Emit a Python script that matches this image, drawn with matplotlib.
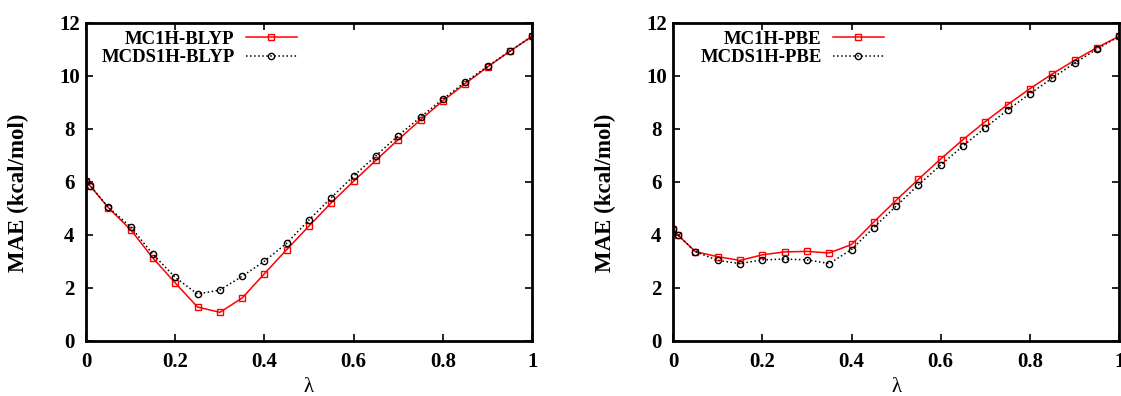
import numpy as np
import matplotlib.pyplot as plt

plt.rcParams['font.family'] = ['Liberation Serif', 'DejaVu Serif']
plt.rcParams['font.weight'] = 'bold'

# lambda values
lam = [0.0, 0.01, 0.05, 0.1, 0.15, 0.2, 0.25, 0.3, 0.35, 0.4, 0.45,
       0.5, 0.55, 0.6, 0.65, 0.7, 0.75, 0.8, 0.85, 0.9, 0.95, 1.0]

# BLYP panel
mc1h_blyp = [6.03, 5.84, 5.03, 4.20, 3.13, 2.19, 1.28, 1.08, 1.62, 2.54, 3.45,
             4.34, 5.22, 6.03, 6.82, 7.60, 8.35, 9.06, 9.71, 10.34, 10.93, 11.50]
mcds1h_blyp = [6.05, 5.85, 5.04, 4.31, 3.27, 2.40, 1.77, 1.92, 2.44, 3.01, 3.69,
               4.57, 5.41, 6.23, 6.99, 7.75, 8.45, 9.13, 9.77, 10.36, 10.94, 11.50]

# PBE panel
mc1h_pbe = [4.23, 4.01, 3.37, 3.18, 3.04, 3.25, 3.36, 3.38, 3.32, 3.64, 4.49,
            5.31, 6.10, 6.87, 7.60, 8.28, 8.92, 9.52, 10.08, 10.59, 11.07, 11.50]
mcds1h_pbe = [4.23, 4.01, 3.37, 3.04, 2.92, 3.06, 3.09, 3.06, 2.92, 3.45, 4.28,
              5.09, 5.89, 6.64, 7.36, 8.05, 8.72, 9.33, 9.92, 10.49, 11.01, 11.50]

panels = [
    (mc1h_blyp, mcds1h_blyp, 'MC1H-BLYP', 'MCDS1H-BLYP'),
    (mc1h_pbe, mcds1h_pbe, 'MC1H-PBE', 'MCDS1H-PBE'),
]

fig = plt.figure(figsize=(11.21, 3.96), dpi=100)
lefts = [0.0767, 0.6004]

for left, (red, black, lab1, lab2) in zip(lefts, panels):
    ax = fig.add_axes([left, 0.139, 0.398, 0.803])
    ax.plot(lam, red, '-', color='red', lw=1.1, marker='s', ms=5,
            mfc='none', mec='red', mew=1.0, label=lab1)
    ax.plot(lam, black, ':', color='black', lw=1.1, marker='o', ms=4.5,
            mfc='none', mec='black', mew=1.0, label=lab2)
    ax.set_xlim(0, 1)
    ax.set_ylim(0, 12)
    ax.set_xticks([0, 0.2, 0.4, 0.6, 0.8, 1])
    ax.set_xticklabels(['0', '0.2', '0.4', '0.6', '0.8', '1'])
    ax.set_yticks([0, 2, 4, 6, 8, 10, 12])
    ax.tick_params(direction='in', top=True, right=True, length=5, width=1.2,
                   labelsize=15)
    ax.tick_params(axis='x', pad=8)
    ax.tick_params(axis='y', pad=12)
    for t in ax.get_yticklabels():
        t.set_ha('center')
    for s in ax.spines.values():
        s.set_linewidth(2)
    ax.set_xlabel('λ', fontsize=15, fontweight='normal')
    ax.xaxis.set_label_coords(0.5, -0.115)
    ax.set_ylabel('MAE (kcal/mol)', fontsize=16.5, fontweight='bold')
    ax.yaxis.set_label_coords(-0.128, 0.465)
    leg = ax.legend(loc='upper right', frameon=False, markerfirst=False,
                    fontsize=13.5, handlelength=2.7, handletextpad=0.6,
                    borderpad=0, borderaxespad=0, labelspacing=0.05,
                    bbox_to_anchor=(0.472, 0.975))
    for t in leg.get_texts():
        t.set_fontweight('bold')

fig.savefig('out.png', dpi=100)
